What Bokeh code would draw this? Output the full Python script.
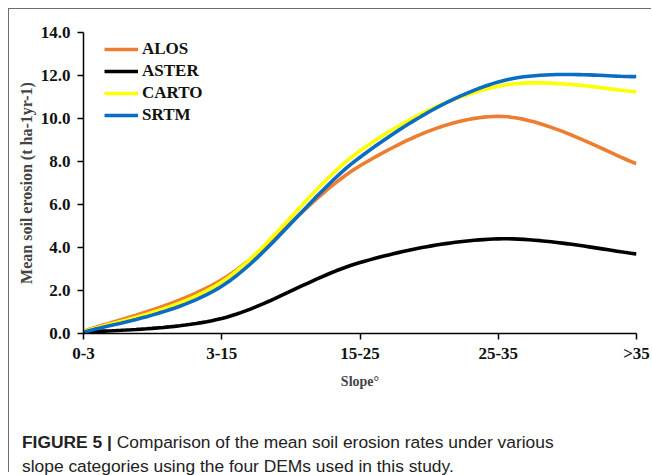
import numpy as np
from bokeh.plotting import figure
from bokeh.layouts import column
from bokeh.models import Range1d, FixedTicker, Legend, LegendItem, Div
from bokeh.embed import file_html
from bokeh.resources import INLINE

categories = ["0-3", "3-15", "15-25", "25-35", ">35"]
alos = [0.1, 2.5, 7.8, 10.1, 7.9]
aster = [0.05, 0.7, 3.3, 4.4, 3.7]
carto = [0.08, 2.4, 8.5, 11.5, 11.25]
srtm = [0.05, 2.2, 8.2, 11.7, 11.95]
series_names = ["ALOS", "ASTER", "CARTO", "SRTM"]
series_colors = ["#ED7D31", "#000000", "#FFFF00", "#0A6CC2"]
y_ticks = [0, 2, 4, 6, 8, 10, 12, 14]

SERIF = "Liberation Serif"
SANS = "Liberation Sans"


def smooth(ys, n=30):
    """Excel-like smoothed line (Catmull-Rom as cubic Bezier)."""
    xs = np.arange(len(ys), dtype=float)
    pts = np.column_stack([xs, np.asarray(ys, dtype=float)])
    ext = np.vstack([pts[0], pts, pts[-1]])
    out = []
    for i in range(len(pts) - 1):
        p0, p1, p2, p3 = ext[i], ext[i + 1], ext[i + 2], ext[i + 3]
        c1 = p1 + (p2 - p0) / 6.0
        c2 = p2 - (p3 - p1) / 6.0
        t = np.linspace(0, 1, n)[:, None]
        seg = ((1 - t) ** 3) * p1 + 3 * ((1 - t) ** 2) * t * c1 + 3 * (1 - t) * t * t * c2 + t ** 3 * p2
        if i > 0:
            seg = seg[1:]
        out.append(seg)
    arr = np.vstack(out)
    return arr[:, 0], arr[:, 1]


p = figure(width=642, height=391, output_backend="svg", toolbar_location=None,
           x_range=Range1d(0, len(categories) - 1), y_range=Range1d(0, 14),
           min_border_left=74, min_border_right=15, min_border_top=23,
           min_border_bottom=67)
p.outline_line_color = None
p.grid.visible = False
p.background_fill_color = "white"
p.border_fill_color = "white"

items = []
for name, vals, col in zip(series_names, [alos, aster, carto, srtm], series_colors):
    sx, sy = smooth(vals)
    r = p.line(sx, sy, line_color=col, line_width=3.6)
    items.append(LegendItem(label=name, renderers=[r]))

# axes
p.xaxis.ticker = FixedTicker(ticks=list(range(len(categories))))
p.xaxis.major_label_overrides = {i: c for i, c in enumerate(categories)}
p.xaxis.minor_tick_line_color = None
p.xaxis.major_tick_out = 6
p.xaxis.major_tick_in = 0
p.xaxis.axis_line_width = 1.5
p.xaxis.major_tick_line_width = 1.5
p.xaxis.major_label_text_font = SERIF
p.xaxis.major_label_text_font_style = "bold"
p.xaxis.major_label_text_font_size = "17px"
p.xaxis.major_label_text_color = "#111111"
p.xaxis.major_label_standoff = 4
p.xaxis.axis_label = "Slope°"
p.xaxis.axis_label_text_font = SERIF
p.xaxis.axis_label_text_font_style = "bold"
p.xaxis.axis_label_text_font_size = "14px"
p.xaxis.axis_label_standoff = 8

p.yaxis.ticker = FixedTicker(ticks=y_ticks)
p.yaxis.major_label_overrides = {t: f"{t:.1f}" for t in y_ticks}
p.yaxis.minor_tick_line_color = None
p.yaxis.major_tick_out = 6
p.yaxis.major_tick_in = 0
p.yaxis.axis_line_width = 1.5
p.yaxis.major_tick_line_width = 1.5
p.yaxis.major_label_text_font = SERIF
p.yaxis.major_label_text_font_style = "bold"
p.yaxis.major_label_text_font_size = "17px"
p.yaxis.major_label_text_color = "#111111"
p.yaxis.major_label_standoff = 7
p.yaxis.axis_label = "Mean soil erosion (t ha-1yr-1)"
p.yaxis.axis_label_text_font = SERIF
p.yaxis.axis_label_text_font_style = "bold"
p.yaxis.axis_label_text_font_size = "16px"
p.yaxis.axis_label_standoff = 3

legend = Legend(items=items, location=(21, 208))
legend.label_text_font = SERIF
legend.label_text_font_style = "bold"
legend.label_text_font_size = "17px"
legend.label_text_color = "#111111"
legend.glyph_width = 34
legend.glyph_height = 20
legend.label_height = 20
legend.spacing = 2
legend.label_standoff = 4
legend.padding = 4
legend.margin = 0
legend.border_line_color = None
legend.background_fill_alpha = 0
p.add_layout(legend)

caption_html = (
    "<div style=\"padding:30px 0 0 13px; font-family:'Liberation Sans', Arial, sans-serif; "
    "font-size:17.4px; line-height:24px; color:#222222; white-space:nowrap;\">"
    "<b>FIGURE 5 |</b> Comparison of the mean soil erosion rates under various<br>"
    "slope categories using the four DEMs used in this study.</div>"
)
cap = Div(text=caption_html, width=642, height=72, margin=(0, 0, 0, 0))

layout = column(p, cap, margin=(8, 0, 0, 8), spacing=0,
                styles={"border-left": "1.5px solid #6e6e6e",
                        "border-top": "1.5px solid #6e6e6e",
                        "background": "white"})

open("out.html", "w").write(file_html(layout, INLINE))
